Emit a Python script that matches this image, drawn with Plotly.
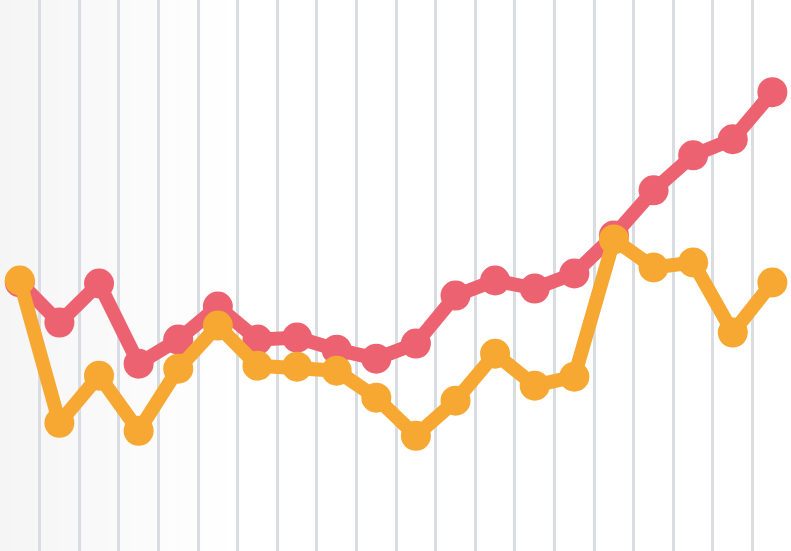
import plotly.graph_objects as go

categories = list(range(1, 21))
red_values = [26.9, 22.9, 26.8, 18.8, 21.2, 24.5, 21.2, 21.4, 20.2, 19.3,
              20.8, 25.6, 27.1, 26.3, 27.8, 31.6, 36.1, 39.6, 41.2, 45.9]
orange_values = [27.1, 12.9, 17.6, 12.1, 18.3, 22.6, 18.6, 18.5, 18.1, 15.4,
                 11.6, 15.1, 19.8, 16.6, 17.5, 31.2, 28.4, 28.9, 21.9, 26.9]

RED = "#ed6270"
ORANGE = "#f6a833"

fig = go.Figure()

# subtle left-side background gradient (shapes drawn below gridlines)
n = 40
for k in range(n):
    t = k / (n - 1)
    g = int(round(245 + (255 - 245) * t))
    x0 = -0.5 + k * 0.15
    fig.add_shape(type="rect", xref="x", yref="paper", x0=x0, x1=x0 + 0.16,
                  y0=0, y1=1, fillcolor=f"rgb({g},{g},{g})", line_width=0,
                  layer="below")

idx = list(range(len(categories)))
fig.add_trace(go.Scatter(x=idx, y=red_values, mode="lines+markers",
                         line=dict(color=RED, width=14),
                         marker=dict(color=RED, size=30),
                         hoverinfo="skip"))
fig.add_trace(go.Scatter(x=idx, y=orange_values, mode="lines+markers",
                         line=dict(color=ORANGE, width=14),
                         marker=dict(color=ORANGE, size=30),
                         hoverinfo="skip"))

fig.update_layout(
    width=791, height=551,
    margin=dict(l=0, r=0, t=0, b=0),
    paper_bgcolor="white", plot_bgcolor="white",
    showlegend=False,
    xaxis=dict(range=[-0.5, 19.47], tickvals=[i - 0.5 for i in range(20)],
               showticklabels=False, showgrid=True, gridcolor="#d9dce1",
               gridwidth=3, zeroline=False, showline=False, ticks=""),
    yaxis=dict(range=[0.1, 55.1], showgrid=False, showticklabels=False,
               zeroline=False, showline=False, ticks=""),
)

fig.write_html("out.html", config={"displayModeBar": False},
               post_script="document.body.style.margin='0';document.body.style.overflow='hidden';")
